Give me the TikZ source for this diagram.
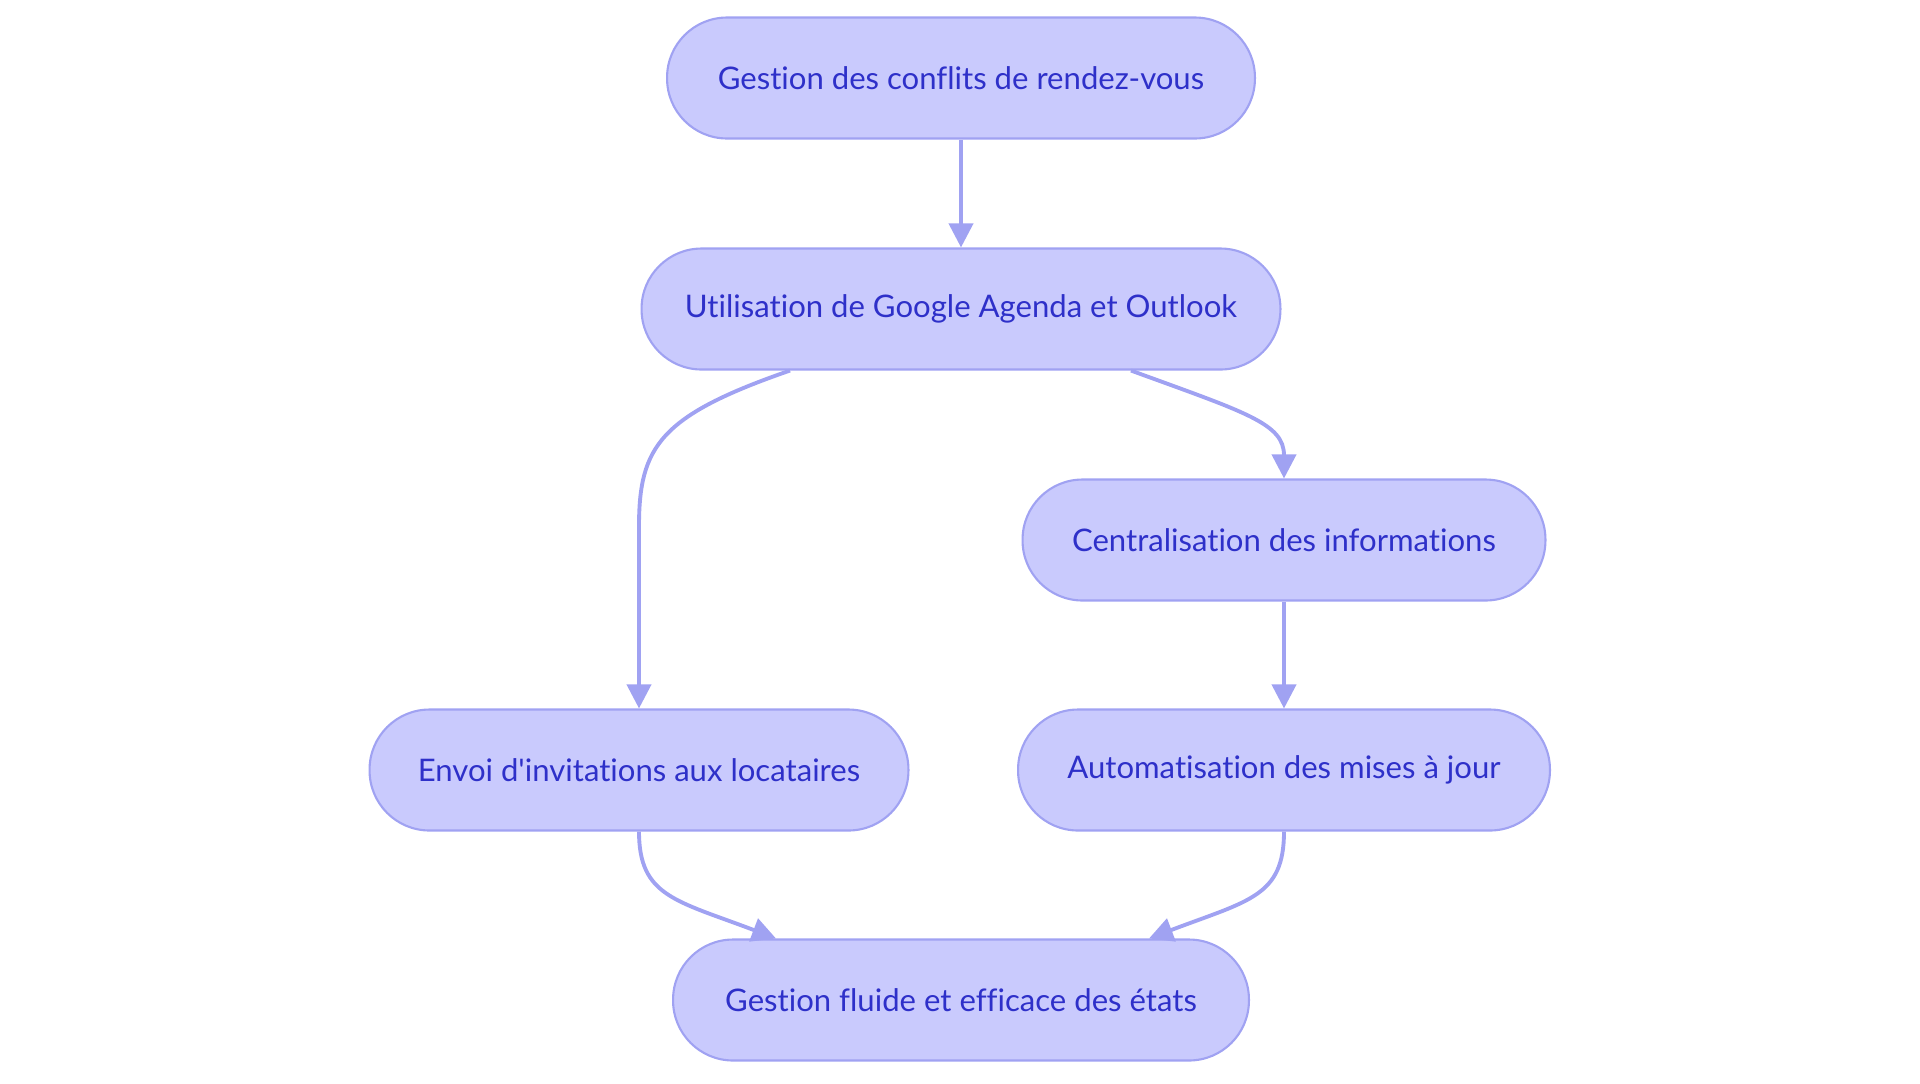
\documentclass[tikz,border=0pt]{standalone}
\usepackage{fontspec}
\setmainfont{Lato}[Ligatures=NoCommon]
\usetikzlibrary{arrows.meta,calc}
\definecolor{flowFill}{HTML}{C9CAFD}
\definecolor{flowLine}{HTML}{A0A2F2}
\definecolor{flowText}{HTML}{2E30C9}
\tikzset{
  flowNode/.style={draw=flowLine, line width=1.2pt, fill=flowFill, rounded corners=1.2cm, align=center, font=\fontsize{17.7}{21}\selectfont, text=flowText, minimum height=2.42cm, inner sep=0pt},
  flowArrow/.style={draw=flowLine, line width=2.2pt, -{Triangle[length=0.48cm, width=0.48cm]}}
}

\begin{document}
\begin{tikzpicture}[x=0.02cm, y=-0.02cm]
      \useasboundingbox (0,0) rectangle (1920,1083);
      \node[flowNode, minimum width=11.76cm] (conflits) at (961,78) {Gestion des conflits de rendez-vous};
      \node[flowNode, minimum width=12.78cm] (outils) at (961,309) {Utilisation de Google Agenda et Outlook};
      \node[flowNode, minimum width=10.46cm] (central) at (1284,540) {Centralisation des informations};
      \node[flowNode, minimum width=10.78cm] (invit) at (639,770) {Envoi d\textquotesingle invitations aux locataires};
      \node[flowNode, minimum width=10.64cm] (auto) at (1284,770) {Automatisation des mises à jour};
      \node[flowNode, minimum width=11.52cm] (etats) at (961,1000) {Gestion fluide et efficace des états};
      \draw[flowArrow] (conflits) -- (outils);
      \draw[flowArrow] ($(outils.south)+(-171,0)$) .. controls +(-130,45) and +(0,-80) .. ($(invit.north)+(0,-182)$) -- (invit.north);
      \draw[flowArrow] ($(outils.south)+(170,0)$) .. controls +(115,42) and +(0,-55) .. (central.north);
      \draw[flowArrow] (central) -- (auto);
      \draw[flowArrow] (invit.south) .. controls +(0,65) and +(-100,-38) .. ($(etats.north)+(-185,0)$);
      \draw[flowArrow] (auto.south) .. controls +(0,65) and +(100,-38) .. ($(etats.north)+(188,0)$);
    \end{tikzpicture}
\end{document}
